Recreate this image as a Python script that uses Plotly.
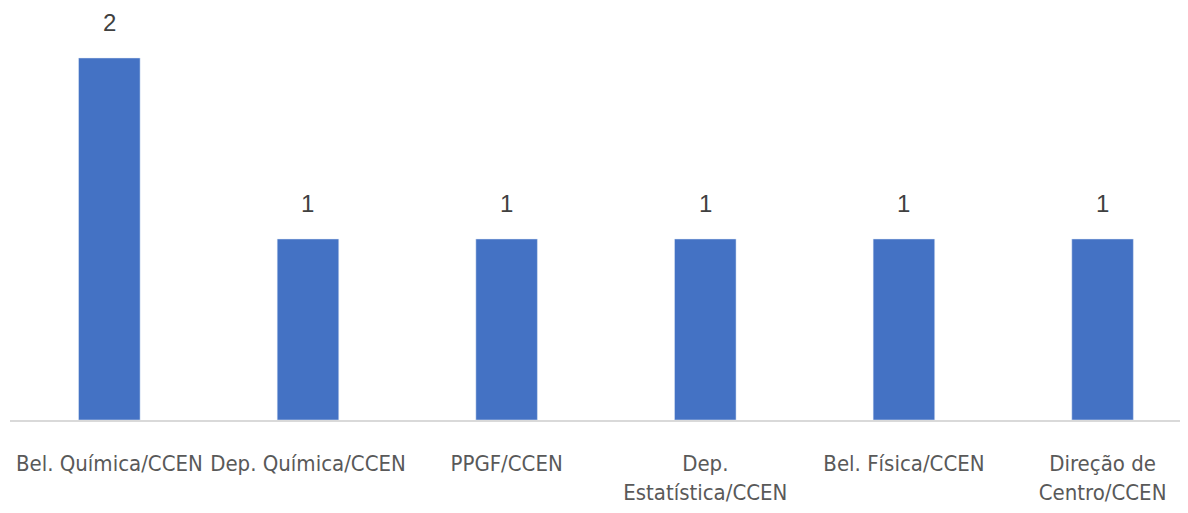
import plotly.graph_objects as go

categories = ["Bel. Química/CCEN", "Dep. Química/CCEN", "PPGF/CCEN",
              "Dep.<br>Estatística/CCEN", "Bel. Física/CCEN", "Direção de<br>Centro/CCEN"]
values = [2, 1, 1, 1, 1, 1]

fig = go.Figure(go.Bar(x=categories, y=values, marker_color="#4472C4", width=0.31))

for c, v in zip(categories, values):
    fig.add_annotation(x=c, y=v, text=str(v), showarrow=False, yanchor="middle", yshift=35,
                       font=dict(family="Liberation Sans, Arial", size=24, color="#404040"))

fig.update_layout(
    width=1180, height=505, margin=dict(l=2, r=0, t=0, b=93),
    paper_bgcolor="white", plot_bgcolor="white", showlegend=False,
    font=dict(family="DejaVu Sans Condensed", size=22, color="#595959"),
)
fig.update_xaxes(range=[-0.5, 5.43], showline=True, linecolor="#d9d9d9", linewidth=2,
                 ticks="outside", ticklen=23, tickcolor="rgba(0,0,0,0)", automargin=False,
                 tickangle=0, tickfont=dict(size=22, color="#595959"))
fig.update_yaxes(range=[0, 2.276], visible=False, showgrid=False, zeroline=False)

fig.write_html("out.html")
